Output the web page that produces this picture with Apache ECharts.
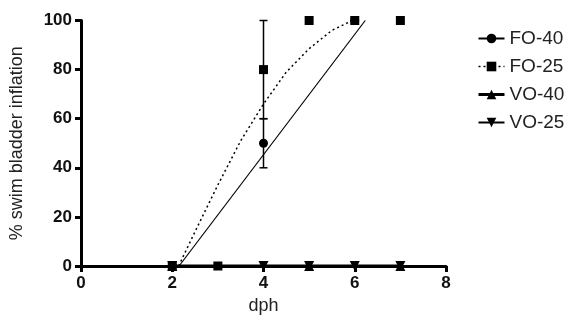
<!DOCTYPE html>
<html><head><meta charset="utf-8">
<script src="https://cdn.jsdelivr.net/npm/echarts@6/dist/echarts.min.js"></script>
<style>html,body{margin:0;padding:0;background:#fff}#c{width:569px;height:320px}</style>
</head><body><div id="c"></div>
<script>
const seriesNames = ['FO-40', 'FO-25', 'VO-40', 'VO-25'];
const xTickLabels = ['0', '2', '4', '6', '8'];
const yTickLabels = ['0', '20', '40', '60', '80', '100'];
const fo40 = [[2, 0], [4, 50], [6, 100]];
const fo25 = [[2, 0], [3, 0], [4, 80], [5, 100], [6, 100], [7, 100]];
const vo40 = [[2, 0], [5, 0], [7, 0]];
const vo25 = [[2, 0], [4, 0], [5, 0], [6, 0], [7, 0]];
const fo40Err = [[4, 40, 60]];
const fo25Err = [[4, 60, 100]];
const fo40Fit = [[2.15, 0], [6.23, 100]];
const fo25Fit = [[2.14, 0], [2.5, 14], [3, 33], [3.5, 51], [4, 66], [4.5, 79], [5, 88.5], [5.5, 96], [5.95, 100]];

const chart = echarts.init(document.getElementById('c'), null, {renderer: 'canvas'});
const black = '#000';
function errItem(params, api) {
  const lo = api.coord([api.value(0), api.value(1)]);
  const hi = api.coord([api.value(0), api.value(2)]);
  const w = 4;
  const st = {stroke: black, lineWidth: 1.5};
  return {type: 'group', children: [
    {type: 'line', shape: {x1: lo[0], y1: lo[1], x2: hi[0], y2: hi[1]}, style: st},
    {type: 'line', shape: {x1: lo[0] - w, y1: lo[1], x2: lo[0] + w, y2: lo[1]}, style: st},
    {type: 'line', shape: {x1: hi[0] - w, y1: hi[1], x2: hi[0] + w, y2: hi[1]}, style: st}
  ]};
}
const font = 'Liberation Sans, Arial, sans-serif';
const mk = {color: black, opacity: 1};
chart.setOption({
  animation: false,
  backgroundColor: '#fff',
  grid: {left: 80, right: 123, top: 20.5, bottom: 54, containLabel: false},
  legend: {
    orient: 'vertical', left: 472, top: 24, itemGap: 9, itemWidth: 26, itemHeight: 12,
    textStyle: {fontFamily: font, fontSize: 19, color: '#222', padding: [0, 0, 0, 0]},
    data: [
      {name: seriesNames[0], lineStyle: {width: 2}},
      {name: seriesNames[1], lineStyle: {width: 1.5}},
      {name: seriesNames[2], lineStyle: {width: 3}},
      {name: seriesNames[3], lineStyle: {width: 2}}
    ]
  },
  xAxis: {
    type: 'value', min: 0, max: 8, interval: 2,
    name: 'dph', nameLocation: 'middle', nameGap: 29,
    nameTextStyle: {fontFamily: font, fontSize: 18, color: '#222'},
    axisLine: {lineStyle: {color: black, width: 3}},
    axisTick: {show: true, length: 6, lineStyle: {color: black, width: 3}},
    axisLabel: {fontFamily: font, fontSize: 17, fontWeight: 'bold', color: '#111', margin: 9,
      formatter: v => xTickLabels[Math.round(v / 2)]},
    splitLine: {show: false}
  },
  yAxis: {
    type: 'value', min: 0, max: 100, interval: 20,
    name: '% swim bladder inflation', nameLocation: 'middle', nameGap: 55,
    nameTextStyle: {fontFamily: font, fontSize: 18, color: '#222'},
    axisLine: {show: true, lineStyle: {color: black, width: 3}},
    axisTick: {show: true, length: 6, lineStyle: {color: black, width: 3}},
    axisLabel: {fontFamily: font, fontSize: 17, fontWeight: 'bold', color: '#111', margin: 9,
      formatter: v => yTickLabels[Math.round(v / 20)]},
    splitLine: {show: false}
  },
  series: [
    {name: seriesNames[0], type: 'line', data: fo40Fit, symbol: 'circle', symbolSize: 9, showSymbol: false,
      clip: false, itemStyle: mk, lineStyle: {color: black, width: 1.2}, z: 3},
    {name: seriesNames[1], type: 'line', data: fo25Fit, symbol: 'rect', symbolSize: 9, showSymbol: false,
      clip: false, itemStyle: mk, lineStyle: {color: black, width: 1.5, type: [2, 3]}, z: 3},
    {name: seriesNames[2], type: 'line', data: vo40, symbol: 'triangle', symbolSize: 10,
      clip: false, itemStyle: mk, lineStyle: {color: black, width: 3}, z: 4},
    {name: seriesNames[3], type: 'line', data: vo25, symbol: 'triangle', symbolRotate: 180, symbolSize: 10,
      clip: false, itemStyle: mk, lineStyle: {color: black, width: 2}, z: 4},
    {name: seriesNames[0], type: 'scatter', data: fo40, symbol: 'circle', symbolSize: 9,
      clip: false, itemStyle: mk, z: 5},
    {name: seriesNames[1], type: 'scatter', data: fo25, symbol: 'rect', symbolSize: 9,
      clip: false, itemStyle: mk, z: 6},
    {type: 'custom', data: fo40Err, renderItem: errItem, clip: false, z: 4},
    {type: 'custom', data: fo25Err, renderItem: errItem, clip: false, z: 4}
  ]
});
</script>
</body></html>
